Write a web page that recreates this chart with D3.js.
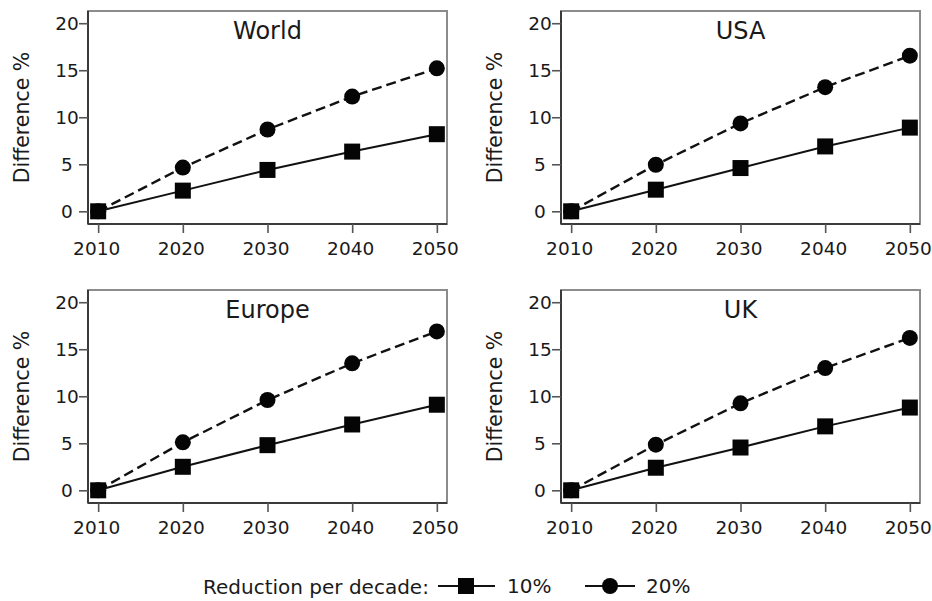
<!DOCTYPE html>
<html>
<head>
<meta charset="utf-8">
<script src="https://cdn.jsdelivr.net/npm/d3@7"></script>
<style>
  body { margin: 0; background: #fff; }
  svg text { font-family: "DejaVu Sans", Verdana, sans-serif; fill: #1a1a1a; }
</style>
</head>
<body>
<svg id="chart" width="932" height="601"></svg>
<script>
// data
const years = [2010, 2020, 2030, 2040, 2050];
const yTicks = [0, 5, 10, 15, 20];
const regions = ["World", "USA", "Europe", "UK"];
const world10 = [0, 2.2, 4.4, 6.35, 8.2];
const world20 = [0, 4.65, 8.7, 12.2, 15.2];
const usa10 = [0, 2.3, 4.6, 6.9, 8.9];
const usa20 = [0, 4.95, 9.35, 13.2, 16.55];
const europe10 = [0, 2.5, 4.8, 7.0, 9.1];
const europe20 = [0, 5.1, 9.6, 13.5, 16.9];
const uk10 = [0, 2.4, 4.55, 6.8, 8.8];
const uk20 = [0, 4.85, 9.25, 13.0, 16.2];
const legendLabels = ["10%", "20%"];

const series10 = [world10, usa10, europe10, uk10];
const series20 = [world20, usa20, europe20, uk20];

const svg = d3.select("#chart");
var pw = 359, ph = 213;
var origins = [[88, 11], [561, 11], [88, 290], [561, 290]];

var x = d3.scaleLinear().domain([2008.8, 2051.2]).range([0, pw]);
var y = d3.scaleLinear().domain([-1.35, 21.3]).range([ph, 0]);

var line = d3.line()
  .x(function(d, i){ return x(years[i]); })
  .y(function(d){ return y(d); });

regions.forEach(function(name, k){
  var g = svg.append("g")
    .attr("transform", "translate(" + origins[k][0] + "," + origins[k][1] + ")");

  // box: grey top/right, darker left/bottom (from the axes)
  g.append("rect")
    .attr("width", pw).attr("height", ph)
    .attr("fill", "none").attr("stroke", "#8c8c8c").attr("stroke-width", 2);

  var ya = g.append("g").call(d3.axisLeft(y).tickValues(yTicks).tickSize(9).tickPadding(5));
  var xa = g.append("g").attr("transform", "translate(0," + ph + ")")
    .call(d3.axisBottom(x).tickValues(years).tickSize(9).tickPadding(9).tickFormat(d3.format("d")));
  [ya, xa].forEach(function(a){
    a.select(".domain").attr("stroke", "#3a3a3a").attr("stroke-width", 2);
    a.selectAll(".tick line").attr("stroke", "#555").attr("stroke-width", 1.6);
    a.selectAll("text").style("font-size", "18.5px").attr("fill", "#1a1a1a");
  });
  ya.select(".domain").attr("d", "M0,0V" + ph);
  xa.select(".domain").attr("d", "M0," + 0 + "H" + pw);
  xa.selectAll(".tick text").attr("dx", -2);
  // y labels sit centred a fixed distance left of the axis
  ya.selectAll(".tick text").attr("x", -21).attr("text-anchor", "middle");

  g.append("text")
    .attr("transform", "translate(-66," + ph / 2 + ") rotate(-90)")
    .attr("text-anchor", "middle").attr("dy", "0.35em")
    .style("font-size", "20.5px")
    .text("Difference %");

  g.append("text")
    .attr("x", pw / 2).attr("y", 28)
    .attr("text-anchor", "middle")
    .style("font-size", "24px")
    .text(name);

  g.append("path").datum(series20[k])
    .attr("d", line).attr("fill", "none")
    .attr("stroke", "#111").attr("stroke-width", 2.4).attr("stroke-dasharray", "10,5");
  g.append("path").datum(series10[k])
    .attr("d", line).attr("fill", "none")
    .attr("stroke", "#111").attr("stroke-width", 2);

  g.selectAll("circle.m20").data(series20[k]).enter().append("circle")
    .attr("class", "m20")
    .attr("cx", function(d, i){ return x(years[i]); })
    .attr("cy", function(d){ return y(d); })
    .attr("r", 8).attr("fill", "#050505");
  g.selectAll("rect.m10").data(series10[k]).enter().append("rect")
    .attr("class", "m10")
    .attr("x", function(d, i){ return x(years[i]) - 8; })
    .attr("y", function(d){ return y(d) - 8; })
    .attr("width", 16).attr("height", 16).attr("fill", "#050505");
});

// legend
var lg = svg.append("g");
lg.append("text").attr("x", 203).attr("y", 594).style("font-size", "20px")
  .text("Reduction per decade:");

var keyX = [438, 585];
legendLabels.forEach(function(lab, i){
  var k = lg.append("g").attr("transform", "translate(" + keyX[i] + ",586)");
  k.append("line").attr("x1", 0).attr("x2", i === 1 ? 50 : 57)
    .attr("stroke", "#111").attr("stroke-width", 2.2);
  if (i === 0) {
    k.append("rect").attr("x", 20).attr("y", -8).attr("width", 16).attr("height", 16).attr("fill", "#050505");
  } else {
    k.append("circle").attr("cx", 25).attr("r", 8).attr("fill", "#050505");
  }
  k.append("text").attr("x", i === 1 ? 61 : 69).attr("y", 7).style("font-size", "20px").text(lab);
});
</script>
</body>
</html>
